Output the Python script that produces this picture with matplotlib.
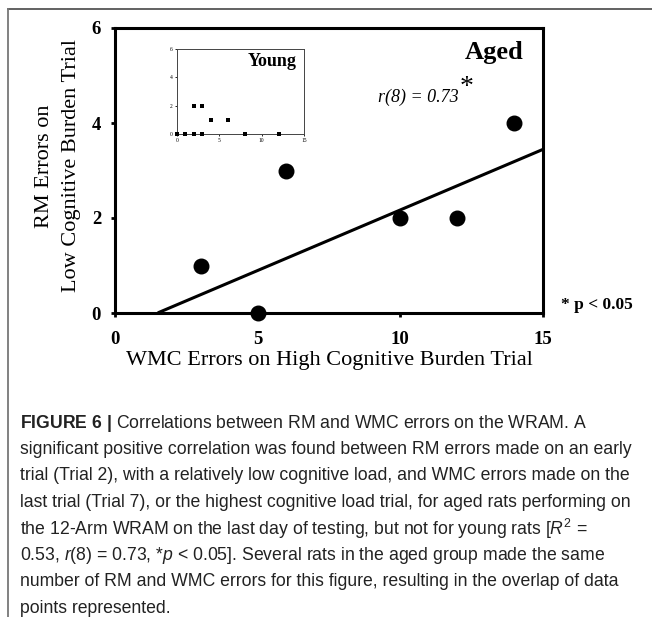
import matplotlib
matplotlib.use("Agg")
import matplotlib.pyplot as plt
from matplotlib.lines import Line2D
import numpy as np

# ---- data ----
aged_wmc = [3, 5, 6, 10, 12, 14]
aged_rm = [1, 0, 3, 2, 2, 4]
young_wmc = [0, 1, 2, 3, 2, 3, 4, 6, 8, 12]
young_rm = [0, 0, 0, 0, 2, 2, 1, 1, 0, 0]
fit_slope = 0.255
fit_intercept = -0.38
fit_x = [1.5, 15]
x_ticks = [0, 5, 10, 15]
y_ticks = [0, 2, 4, 6]

W, H = 652, 617
fig = plt.figure(figsize=(W / 100, H / 100), dpi=100)

SERIF = "Liberation Serif"
SANS = ["Liberation Sans", "DejaVu Sans"]

# frame lines
fig.add_artist(Line2D([8 / W, 1.0], [1 - 9 / H, 1 - 9 / H], color="#555555", lw=1.3, transform=fig.transFigure))
fig.add_artist(Line2D([8 / W, 8 / W], [1 - 9 / H, 0], color="#777777", lw=1.3, transform=fig.transFigure))

# main axes
l, r, t, b = 115 / W, 543 / W, 1 - 28 / H, 1 - 313 / H
ax = fig.add_axes([l, b, r - l, t - b])
ax.set_xlim(0, 15)
ax.set_ylim(0, 6)
for s in ax.spines.values():
    s.set_linewidth(2.2)
ax.tick_params(direction="out", length=3, width=2)
ax.set_xticks(x_ticks)
ax.set_yticks(y_ticks)
ax.set_xticklabels([str(v) for v in x_ticks], fontfamily=SERIF, fontweight="bold", fontsize=13.5)
ax.set_yticklabels([str(v) for v in y_ticks], fontfamily=SERIF, fontweight="bold", fontsize=13.5)
ax.tick_params(axis="x", pad=10)
ax.tick_params(axis="y", pad=7)

fx = np.array(fit_x)
ax.plot(fx, fit_slope * fx + fit_intercept, color="black", lw=2.2, solid_capstyle="butt", clip_on=False)
ax.scatter(aged_wmc, aged_rm, s=110, color="black", zorder=5, clip_on=False)

ax.set_xlabel("WMC Errors on High Cognitive Burden Trial", fontfamily=SERIF, fontsize=16, labelpad=2)
fig.text(58 / W, 1 - 166 / H, "RM Errors on\nLow Cognitive Burden Trial", rotation=90,
         fontfamily=SERIF, fontsize=16, ha="center", va="center", linespacing=1.55,
         multialignment="center")

fig.text(465 / W, 1 - 52 / H, "Aged", fontfamily=SERIF, fontweight="bold", fontsize=19, ha="left", va="center")
fig.text(418 / W, 1 - 97 / H, "r(8) = 0.73", fontfamily=SERIF, fontstyle="italic", fontsize=13, ha="center", va="center")
fig.text(467 / W, 1 - 88 / H, "*", fontfamily=SERIF, fontsize=20, ha="center", va="center")
fig.text(561 / W, 1 - 305 / H, "* p < 0.05", fontfamily=SERIF, fontweight="bold", fontsize=12.5, ha="left", va="center")

# inset axes
il, ir, it, ib = 177 / W, 304 / W, 1 - 49 / H, 1 - 134 / H
ax2 = fig.add_axes([il, ib, ir - il, it - ib])
ax2.set_xlim(0, 15)
ax2.set_ylim(0, 6)
for s in ax2.spines.values():
    s.set_linewidth(0.7)
    s.set_color("#444444")
ax2.tick_params(direction="out", length=1.5, width=0.6, pad=1.5, labelsize=4)
ax2.set_xticks(x_ticks)
ax2.set_yticks(y_ticks)
for lab in ax2.get_xticklabels() + ax2.get_yticklabels():
    lab.set_fontfamily(SERIF)
ax2.scatter(young_wmc, young_rm, s=12, marker="s", color="black", zorder=5, clip_on=False, linewidths=0)
fig.text(272 / W, 1 - 62 / H, "Young", fontfamily=SERIF, fontweight="bold", fontsize=13, ha="center", va="center")

# caption
plt.rcParams["mathtext.fontset"] = "custom"
plt.rcParams["mathtext.rm"] = "Liberation Sans"
plt.rcParams["mathtext.it"] = "Liberation Sans:italic"
plt.rcParams["mathtext.bf"] = "Liberation Sans:bold"

caption_lines = [
    r"$\mathbf{FIGURE\ 6\ |}$ Correlations between RM and WMC errors on the WRAM. A",
    "significant positive correlation was found between RM errors made on an early",
    "trial (Trial 2), with a relatively low cognitive load, and WMC errors made on the",
    "last trial (Trial 7), or the highest cognitive load trial, for aged rats performing on",
    r"the 12-Arm WRAM on the last day of testing, but not for young rats [$\mathit{R}^{2}$ =",
    r"0.53, $\mathit{r}$(8) = 0.73, *$\mathit{p}$ < 0.05]. Several rats in the aged group made the same",
    "number of RM and WMC errors for this figure, resulting in the overlap of data",
    "points represented.",
]
y0 = 423
for i, line in enumerate(caption_lines):
    fig.text(20 / W, 1 - (y0 + i * 26.5) / H, line, fontfamily=SANS, fontsize=12.7,
             ha="left", va="center", color="#222222")

fig.savefig("out.png", dpi=100)
